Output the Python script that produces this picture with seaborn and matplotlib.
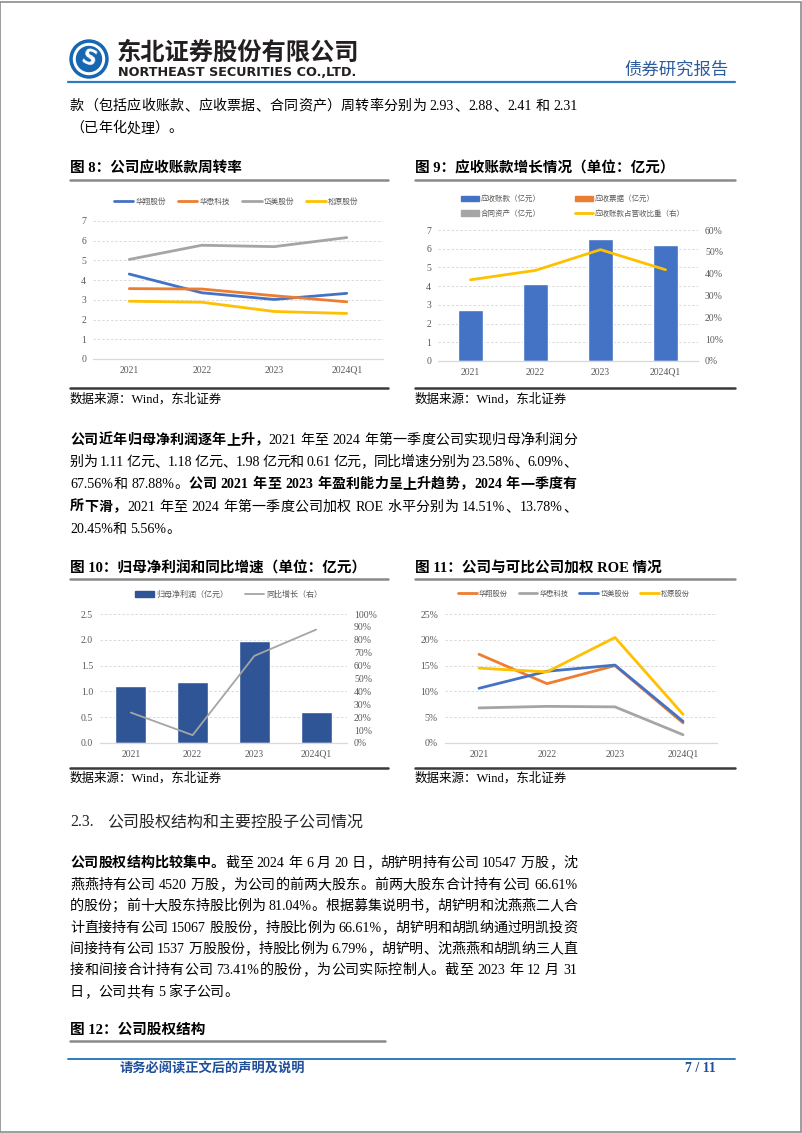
import numpy as np
import pandas as pd
import matplotlib
matplotlib.use("Agg")
import matplotlib.pyplot as plt
import seaborn as sns
from matplotlib.lines import Line2D
from matplotlib.patches import Patch, Ellipse, Rectangle
from matplotlib.font_manager import FontProperties
from matplotlib.ticker import FuncFormatter

# ---------------- data ----------------
years = ["2021", "2022", "2023", "2024Q1"]

# Fig 8: receivable turnover
peers8 = ["华翔股份", "华懋科技", "岱美股份", "松原股份"]
turn_huaxiang = [4.31, 3.36, 3.02, 3.33]
turn_huamao = [3.57, 3.55, 3.21, 2.90]
turn_daimei = [5.05, 5.77, 5.70, 6.16]
turn_songyuan = [2.93, 2.88, 2.41, 2.31]

# Fig 9: receivables (亿元) and share of revenue (%)
recv_labels = ["应收账款（亿元）", "应收票据（亿元）", "合同资产（亿元）", "应收账款占营收比重（右）"]
recv = [2.75, 4.10, 6.50, 6.20]
recv_ratio = [37.2, 41.5, 51.0, 41.8]

# Fig 10: net profit (亿元) and yoy (%)
profit_labels = ["归母净利润（亿元）", "同比增长（右）"]
profit = [1.11, 1.18, 1.98, 0.61]
profit_yoy = [23.58, 6.09, 67.56, 87.88]

# Fig 11: weighted ROE (%)
peers11 = ["华翔股份", "华懋科技", "岱美股份", "松原股份"]
roe_huaxiang = [17.2, 11.5, 15.0, 3.9]
roe_huamao = [6.8, 7.1, 7.0, 1.6]
roe_daimei = [10.6, 13.9, 15.1, 4.2]
roe_songyuan = [14.51, 13.78, 20.45, 5.56]

# ---------------- style ----------------
sns.set_theme(style="white")
SERIF = ["Liberation Serif", "Noto Sans CJK SC"]
CJK = ["Noto Sans CJK SC", "DejaVu Sans"]
plt.rcParams["font.family"] = SERIF
plt.rcParams["axes.unicode_minus"] = False

BLUE = "#4472C4"
ORANGE = "#ED7D31"
GRAY = "#A5A5A5"
YELLOW = "#FFC000"
NAVY = "#2F5597"
TXT = "#595959"

W, H = 802, 1133
fig = plt.figure(figsize=(W / 100, H / 100), dpi=100)
fig.patch.set_facecolor("white")


def fx(x):
    return x / W


def fy(y):
    return 1 - y / H


def hline(x0, x1, y, color, lw):
    fig.add_artist(Line2D([fx(x0), fx(x1)], [fy(y), fy(y)], color=color, lw=lw,
                          transform=fig.transFigure))


renderer = fig.canvas.get_renderer()


def fprop(size, bold=False, fam=None):
    return FontProperties(family=fam or SERIF, size=size, weight="bold" if bold else "normal")


def tokens_of(s):
    toks, buf = [], ""
    for ch in s:
        if ch.isascii() and ch != " ":
            buf += ch
        else:
            if buf:
                toks.append(buf)
                buf = ""
            toks.append(ch)
    if buf:
        toks.append(buf)
    return toks


def adv(t, prop, size):
    em = size * 100 / 72
    if t == " ":
        return 0.25 * em
    if not t.isascii():
        return em
    w1 = renderer.get_text_width_height_descent("|" + t + "|", prop, ismath=False)[0]
    w0 = renderer.get_text_width_height_descent("||", prop, ismath=False)[0]
    return w1 - w0


def draw_line(runs, x0, yc, size, x1=None, color="black"):
    items = []
    for s, b in runs:
        prop = fprop(size, b)
        for t in tokens_of(s):
            items.append((t, prop, adv(t, prop, size)))
    total = sum(w for _, _, w in items)
    gap = 0.0
    if x1 is not None and len(items) > 1:
        gap = (x1 - x0 - total) / (len(items) - 1)
    x = x0
    base = yc + 0.36 * size * 100 / 72
    for t, prop, w in items:
        if t != " ":
            fig.text(fx(x), fy(base), t, fontproperties=prop, color=color,
                     ha="left", va="baseline")
        x += w + gap


BODY = 10.1
LEFT, RIGHT = 70, 577

# ---------------- page frame / header ----------------
fig.add_artist(Rectangle((0.0005, 0.0005), 0.998, 0.998, transform=fig.transFigure,
                         fill=False, edgecolor="#8C8C8C", lw=1.2))
# logo
cx, cy = 89, 59
for r, c in [(19, "#1766B1"), (15.5, "white"), (12.5, "#1766B1")]:
    fig.add_artist(Ellipse((fx(cx), fy(cy)), 2 * r / W, 2 * r / H, color=c,
                           transform=fig.transFigure))
fig.text(fx(cx), fy(cy), "S", color="white", fontsize=15, fontweight="bold",
         family="DejaVu Sans", ha="center", va="center", rotation=-20)
fig.text(fx(117), fy(53), "东北证券股份有限公司", fontsize=17.5, fontweight="bold",
         family=CJK, color="#231F20", ha="left", va="center")
fig.text(fx(118), fy(72.5), "NORTHEAST SECURITIES CO.,LTD.", fontsize=9.2, fontweight="bold",
         family="DejaVu Sans", color="#231F20", ha="left", va="center")
fig.text(fx(729), fy(70), "债券研究报告", fontsize=12.5, family=CJK, color="#2B5C9E",
         ha="right", va="center")
hline(68, 735, 82, "#2F7BC1", 1.6)

# ---------------- top text ----------------
draw_line([("款（包括应收账款、应收票据、合同资产）周转率分别为 2.93、2.88、2.41 和 2.31", False)],
          LEFT, 105, BODY, 578)
draw_line([("（已年化处理）。", False)], LEFT, 127, BODY)

# ---------------- figure frames ----------------
def frame(x0, x1, ytitle, yline, ybottom, ysrc, title):
    fig.text(fx(x0), fy(ytitle), title, fontsize=10.5, fontweight="bold", family=SERIF,
             ha="left", va="center", color="black")
    hline(x0, x1, yline, "#8A8A8A", 1.8)
    if ybottom is not None:
        hline(x0, x1, ybottom, "#3A3A3A", 1.8)
    if ysrc is not None:
        fig.text(fx(x0), fy(ysrc), "数据来源：Wind，东北证券", fontsize=9, family=SERIF,
                 ha="left", va="center", color="black")


frame(70, 388, 168, 180, 388, 399, "图 8：公司应收账款周转率")
frame(415, 735, 168, 180, 388, 399, "图 9：应收账款增长情况（单位：亿元）")
frame(70, 388, 568, 579, 768, 778, "图 10：归母净利润和同比增速（单位：亿元）")
frame(415, 735, 568, 579, 768, 778, "图 11：公司与可比公司加权 ROE 情况")


def style_ax(ax):
    for s in ["top", "right", "left"]:
        ax.spines[s].set_visible(False)
    ax.spines["bottom"].set_color("#D9D9D9")
    ax.spines["bottom"].set_linewidth(0.9)
    ax.tick_params(axis="both", length=0, labelsize=7, colors=TXT, pad=5)
    ax.yaxis.grid(True, color="#D9D9D9", linestyle=(0, (2.5, 2)), linewidth=0.7)
    ax.xaxis.grid(False)
    ax.set_axisbelow(True)
    ax.set_xlabel("")
    ax.set_ylabel("")
    ax.set_facecolor("none")


def style_twin(ax):
    for s in ["top", "right", "left", "bottom"]:
        ax.spines[s].set_visible(False)
    ax.grid(False)
    ax.tick_params(axis="y", length=0, labelsize=7, colors=TXT, pad=5)
    ax.set_ylabel("")
    ax.set_xlabel("")


def legend_at(handles, labels, xc, yc, ncol, fs=5.6, colsp=1.4, hl=2.6, lsp=0.5):
    leg = fig.legend(handles, labels, loc="center", bbox_to_anchor=(fx(xc), fy(yc)),
                     ncol=ncol, frameon=False, handlelength=hl,
                     columnspacing=colsp, handletextpad=0.3, labelspacing=lsp,
                     borderpad=0, prop=FontProperties(family=CJK, size=fs))
    for t in leg.get_texts():
        t.set_color(TXT)
    return leg


# ---------------- Fig 8 ----------------
ax8 = fig.add_axes([fx(93), fy(359), (383 - 93) / W, (359 - 221) / H])
df8 = pd.DataFrame({
    "year": years * 4,
    "value": turn_huaxiang + turn_huamao + turn_daimei + turn_songyuan,
    "company": [p for p in peers8 for _ in years],
})
pal8 = dict(zip(peers8, [BLUE, ORANGE, GRAY, YELLOW]))
sns.lineplot(data=df8, x="year", y="value", hue="company", palette=pal8, linewidth=2,
             sort=False, legend=False, ax=ax8)
ax8.set_ylim(0, 7)
ax8.set_yticks(range(8))
ax8.set_xlim(-0.5, 3.5)
style_ax(ax8)
legend_at([Line2D([], [], color=pal8[p], lw=2) for p in peers8], peers8, 236, 202, 4,
          fs=5.5, colsp=1.5, hl=2.6)

# ---------------- Fig 9 ----------------
ax9 = fig.add_axes([fx(438), fy(361), (698 - 438) / W, (361 - 230) / H])
sns.barplot(x=years, y=recv, color=BLUE, saturation=1, width=0.38, ax=ax9)
ax9.set_ylim(0, 7)
ax9.set_yticks(range(8))
ax9.set_xlim(-0.5, 3.5)
style_ax(ax9)
ax9b = ax9.twinx()
sns.lineplot(x=years, y=recv_ratio, color=YELLOW, linewidth=2, sort=False, ax=ax9b)
ax9b.set_ylim(0, 60)
ax9b.set_yticks(range(0, 61, 10))
ax9b.yaxis.set_major_formatter(FuncFormatter(lambda v, p: f"{v:.0f}%"))
style_twin(ax9b)
h9 = [Patch(color=BLUE), Patch(color=ORANGE), Patch(color=GRAY),
      Line2D([], [], color=YELLOW, lw=2)]
order = [0, 2, 1, 3]  # legend fills column-wise; show row-wise like the original
legend_at([h9[i] for i in order], [recv_labels[i] for i in order], 573, 206.5, 2,
          fs=5.4, colsp=4.6, hl=2.3, lsp=0.85)

# ---------------- Fig 10 ----------------
ax10 = fig.add_axes([fx(100), fy(743), (347 - 100) / W, (743 - 614) / H])
sns.barplot(x=years, y=profit, color=NAVY, saturation=1, width=0.5, ax=ax10)
ax10.set_ylim(0, 2.5)
ax10.set_yticks(np.arange(0, 2.51, 0.5))
ax10.yaxis.set_major_formatter(FuncFormatter(lambda v, p: f"{v:.1f}"))
ax10.set_xlim(-0.5, 3.5)
style_ax(ax10)
ax10b = ax10.twinx()
sns.lineplot(x=years, y=profit_yoy, color=GRAY, linewidth=1.3, sort=False, ax=ax10b)
ax10b.set_ylim(0, 100)
ax10b.set_yticks(range(0, 101, 10))
ax10b.yaxis.set_major_formatter(FuncFormatter(lambda v, p: f"{v:.0f}%"))
style_twin(ax10b)
legend_at([Patch(color=NAVY), Line2D([], [], color=GRAY, lw=1.3)], profit_labels,
          228.5, 594, 2, fs=5.8, colsp=2.0, hl=2.4)

# ---------------- Fig 11 ----------------
ax11 = fig.add_axes([fx(445), fy(743), (717 - 445) / W, (743 - 614) / H])
df11 = pd.DataFrame({
    "year": years * 4,
    "value": roe_huaxiang + roe_huamao + roe_daimei + roe_songyuan,
    "company": [p for p in peers11 for _ in years],
})
pal11 = dict(zip(peers11, [ORANGE, GRAY, BLUE, YELLOW]))
sns.lineplot(data=df11, x="year", y="value", hue="company", palette=pal11, linewidth=2,
             sort=False, legend=False, ax=ax11)
ax11.set_ylim(0, 25)
ax11.set_yticks(range(0, 26, 5))
ax11.yaxis.set_major_formatter(FuncFormatter(lambda v, p: f"{v:.0f}%"))
ax11.set_xlim(-0.5, 3.5)
style_ax(ax11)
legend_at([Line2D([], [], color=pal11[p], lw=2) for p in peers11], peers11, 574, 594, 4,
          fs=5.2, colsp=1.5, hl=2.6)

# ---------------- paragraph 1 ----------------
p1 = [
    [("公司近年归母净利润逐年上升，", True), ("2021 年至 2024 年第一季度公司实现归母净利润分", False)],
    [("别为 1.11 亿元、1.18 亿元、1.98 亿元和 0.61 亿元，同比增速分别为 23.58%、6.09%、", False)],
    [("67.56%和 87.88%。", False), ("公司 2021 年至 2023 年盈利能力呈上升趋势，2024 年一季度有", True)],
    [("所下滑，", True), ("2021 年至 2024 年第一季度公司加权 ROE 水平分别为 14.51%、13.78%、", False)],
    [("20.45%和 5.56%。", False)],
]
ys1 = [439, 461, 483, 506, 528]
for i, (runs, y) in enumerate(zip(p1, ys1)):
    draw_line(runs, LEFT, y, BODY, None if i == len(p1) - 1 else RIGHT)

# ---------------- section 2.3 ----------------
fig.text(fx(70), fy(822), "2.3.", fontsize=11.5, family=SERIF, ha="left", va="center")
fig.text(fx(107), fy(822), "公司股权结构和主要控股子公司情况", fontsize=11.5, family=SERIF,
         ha="left", va="center")

p2 = [
    [("公司股权结构比较集中。", True), ("截至 2024 年 6 月 20 日，胡铲明持有公司 10547 万股，沈", False)],
    [("燕燕持有公司 4520 万股，为公司的前两大股东。前两大股东合计持有公司 66.61%", False)],
    [("的股份；前十大股东持股比例为 81.04%。根据募集说明书，胡铲明和沈燕燕二人合", False)],
    [("计直接持有公司 15067 股股份，持股比例为 66.61%，胡铲明和胡凯纳通过明凯投资", False)],
    [("间接持有公司 1537 万股股份，持股比例为 6.79%，胡铲明、沈燕燕和胡凯纳三人直", False)],
    [("接和间接合计持有公司 73.41%的股份，为公司实际控制人。截至 2023 年 12 月 31", False)],
    [("日，公司共有 5 家子公司。", False)],
]
ys2 = [862, 884, 905, 927, 948, 969, 991]
for i, (runs, y) in enumerate(zip(p2, ys2)):
    draw_line(runs, LEFT, y, BODY, None if i == len(p2) - 1 else RIGHT)

# ---------------- fig 12 title & footer ----------------
frame(70, 385, 1030, 1041, None, None, "图 12：公司股权结构")
hline(68, 735, 1059, "#2F7BC1", 1.4)
fig.text(fx(120), fy(1069), "请务必阅读正文后的声明及说明", fontsize=9.5, fontweight="bold",
         family=CJK, color="#1F4E9A", ha="left", va="center")
fig.text(fx(716), fy(1069), "7 / 11", fontsize=10, fontweight="bold", family=SERIF,
         color="#1F4E9A", ha="right", va="center")

fig.savefig("out.png", dpi=100, facecolor="white")
